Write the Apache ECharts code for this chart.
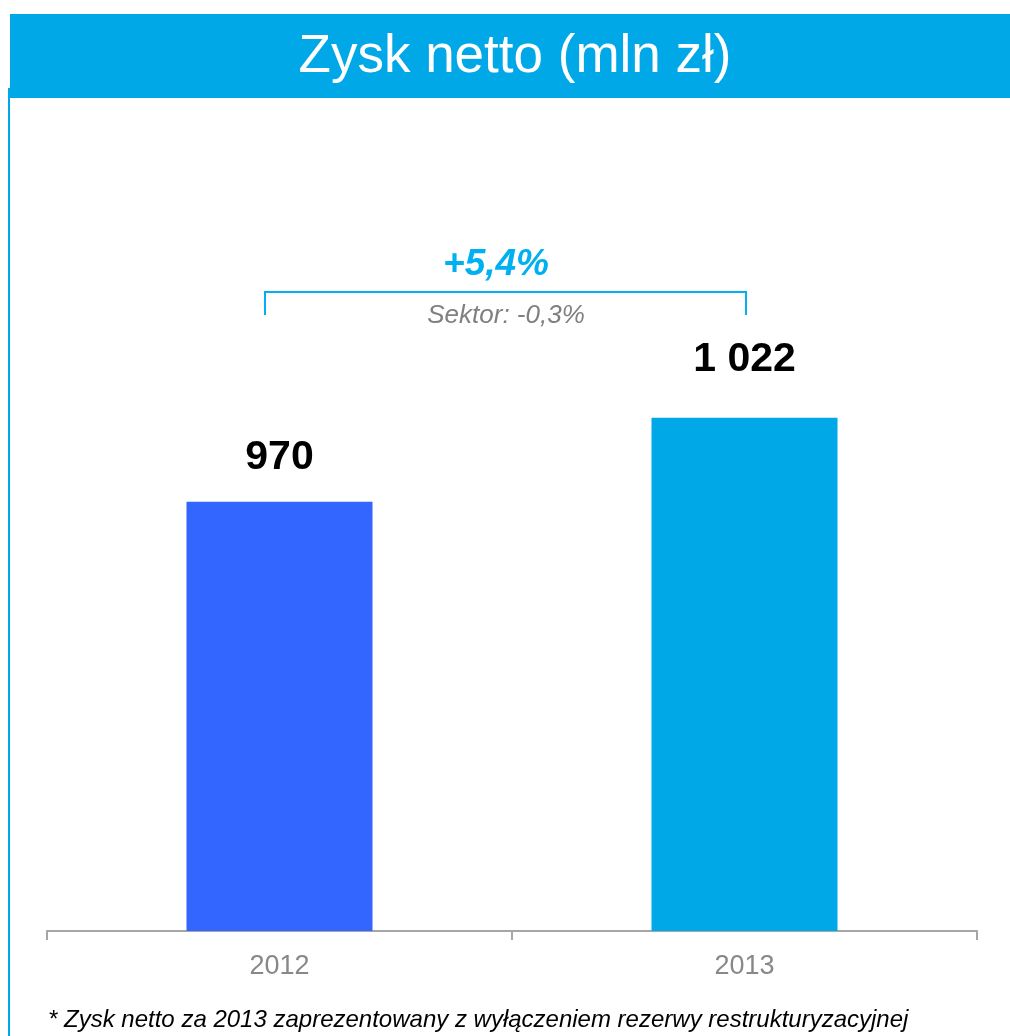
<!DOCTYPE html>
<html>
<head>
<meta charset="utf-8">
<script src="https://cdn.jsdelivr.net/npm/echarts@6/dist/echarts.min.js"></script>
<style>
  html, body { margin: 0; padding: 0; background: #fff; }
  #chart { width: 1010px; height: 1036px; }
</style>
</head>
<body>
<div id="chart"></div>
<script>
const years = ["2012", "2013"];
const profit = [970, 1022];
const profitLabels = ["970", "1 022"];
const barColors = ["#3366FF", "#00A8E8"];
const growthText = "+5,4%";
const sectorText = "Sektor: -0,3%";
const titleText = "Zysk netto (mln zł)";
const noteText = "* Zysk netto za 2013 zaprezentowany z wyłączeniem rezerwy restrukturyzacyjnej";

const font = "Liberation Sans, Arial, sans-serif";
const myChart = echarts.init(document.getElementById("chart"));

const option = {
  animation: false,
  grid: { left: 47, right: 33, top: 137, bottom: 105 },
  xAxis: {
    type: "category",
    data: years,
    axisLine: { lineStyle: { color: "#A6A6A6", width: 2 } },
    axisTick: { show: true, length: 9, lineStyle: { color: "#A6A6A6", width: 2 } },
    axisLabel: { color: "#888888", fontSize: 27, fontFamily: font, margin: 22 },
  },
  yAxis: {
    type: "value",
    min: 704,
    max: 1196,
    show: false,
    splitLine: { show: false },
  },
  series: [
    {
      type: "bar",
      barWidth: "40%",
      data: profit.map((v, i) => ({
        value: v,
        itemStyle: { color: barColors[i] },
        label: { formatter: profitLabels[i], distance: i === 0 ? 24 : 38 },
      })),
      label: {
        show: true,
        position: "top",
        color: "#000",
        fontSize: 41,
        fontWeight: "bold",
        fontFamily: font,
      },
    },
  ],
  graphic: [
    {
      type: "rect",
      shape: { x: 10, y: 14, width: 1000, height: 84 },
      style: { fill: "#00A8E8" },
    },
    {
      type: "rect",
      shape: { x: 8, y: 88, width: 2, height: 948 },
      style: { fill: "#00A8E8" },
    },
    {
      type: "text",
      x: 515,
      y: 57,
      style: {
        text: titleText,
        fill: "#fff",
        font: "53px " + font,
        align: "center",
        verticalAlign: "middle",
      },
    },
    {
      type: "polyline",
      shape: { points: [[265, 315], [265, 292], [746, 292], [746, 315]] },
      style: { stroke: "#00B0F0", lineWidth: 2, fill: null },
    },
    {
      type: "text",
      x: 496,
      y: 265,
      style: {
        text: growthText,
        fill: "#00B0F0",
        font: "italic bold 37px " + font,
        align: "center",
        verticalAlign: "middle",
      },
    },
    {
      type: "text",
      x: 506,
      y: 316,
      style: {
        text: sectorText,
        fill: "#808080",
        font: "italic 26px " + font,
        align: "center",
        verticalAlign: "middle",
      },
    },
    {
      type: "text",
      x: 48,
      y: 1020,
      style: {
        text: noteText,
        fill: "#000",
        font: "italic 24px " + font,
        align: "left",
        verticalAlign: "middle",
      },
    },
  ],
};

myChart.setOption(option);
</script>
</body>
</html>
